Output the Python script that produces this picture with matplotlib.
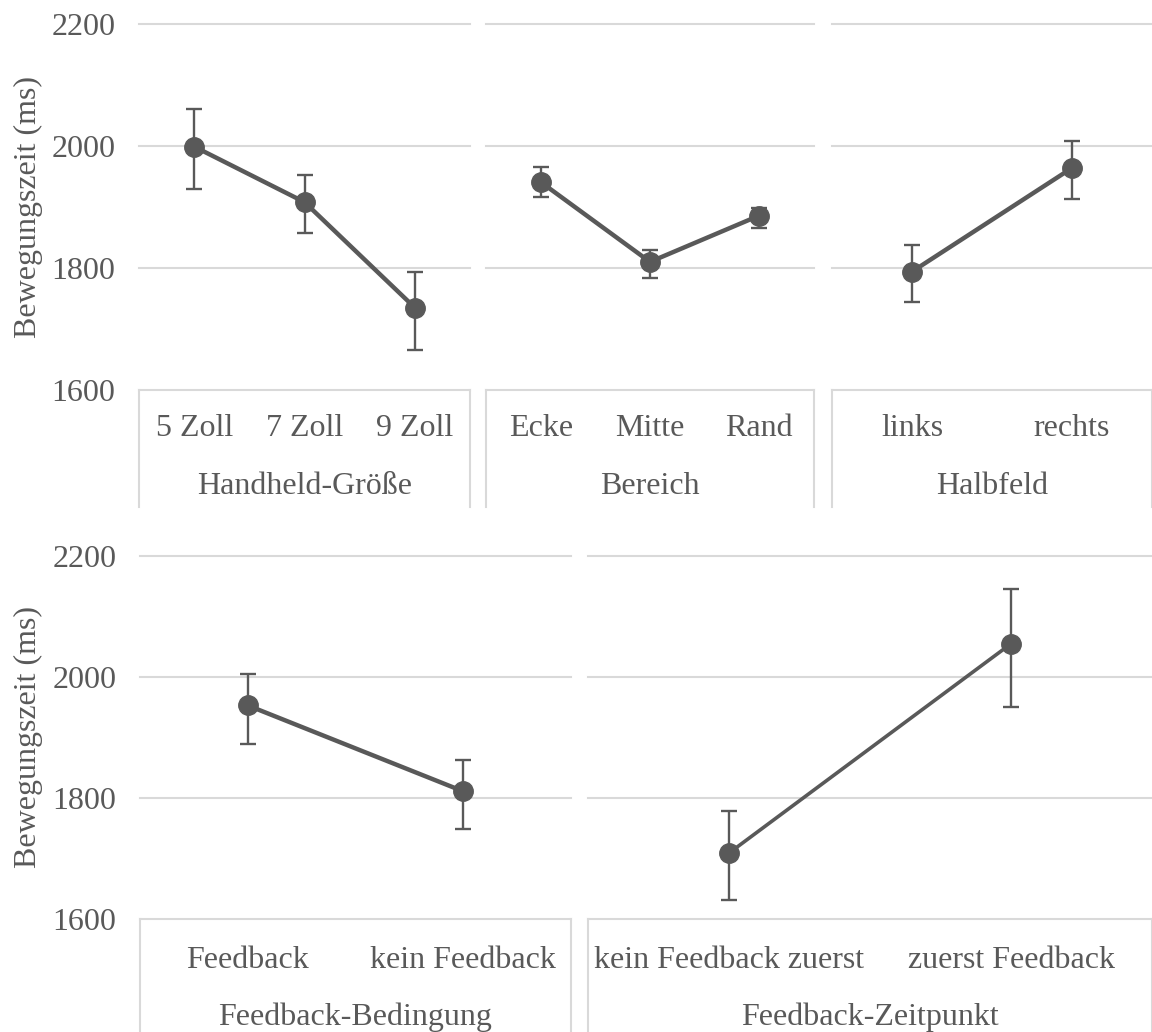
import numpy as np
import matplotlib
matplotlib.use("Agg")
import matplotlib.pyplot as plt

plt.rcParams['font.family'] = ['Liberation Serif', 'DejaVu Serif']

# --- Data ---
y_ticks = [1600, 1800, 2000, 2200]
y_label = "Bewegungszeit (ms)"

size_cats = ["5 Zoll", "7 Zoll", "9 Zoll"]
size_mean = [1999, 1908, 1735]
size_lo = [1930, 1857, 1666]
size_hi = [2060, 1952, 1793]

area_cats = ["Ecke", "Mitte", "Rand"]
area_mean = [1941, 1810, 1886]
area_lo = [1917, 1783, 1865]
area_hi = [1965, 1829, 1899]

half_cats = ["links", "rechts"]
half_mean = [1794, 1964]
half_lo = [1744, 1913]
half_hi = [1838, 2008]

fb_cats = ["Feedback", "kein Feedback"]
fb_mean = [1953, 1811]
fb_lo = [1889, 1748]
fb_hi = [2005, 1863]

order_cats = ["kein Feedback zuerst", "zuerst Feedback"]
order_mean = [1709, 2055]
order_lo = [1632, 1951]
order_hi = [1778, 2146]

groups = ["Handheld-Größe", "Bereich", "Halbfeld", "Feedback-Bedingung", "Feedback-Zeitpunkt"]

# --- Layout (pixels) ---
W, H = 1152, 1032
GREY = "#595959"
GRID = "#d9d9d9"
FS = 23

# row: plot top, plot bottom, box bottom, category label y, group label y
rows = {
    "top": (24, 390, 507, 428, 487),
    "bottom": (556, 919, 1032, 960, 1017),
}

panels = [
    (size_cats, size_mean, size_lo, size_hi, groups[0], 139, 470, "top", 3.2),
    (area_cats, area_mean, area_lo, area_hi, groups[1], 486, 814, "top", 3.2),
    (half_cats, half_mean, half_lo, half_hi, groups[2], 832, 1152, "top", 3.2),
    (fb_cats, fb_mean, fb_lo, fb_hi, groups[3], 140, 571, "bottom", 3.2),
    (order_cats, order_mean, order_lo, order_hi, groups[4], 588, 1152, "bottom", 2.6),
]

fig = plt.figure(figsize=(W / 100, H / 100), dpi=100)

for i, (cats, mean, lo, hi, grp, x0, x1, row, lw) in enumerate(panels):
    top, bot, boxbot, caty, grpy = rows[row]
    ax = fig.add_axes([x0 / W, 1 - bot / H, (x1 - x0) / W, (bot - top) / H])
    h_ax = bot - top
    n = len(cats)
    x = np.arange(n)
    mean = np.array(mean)
    yerr = [mean - np.array(lo), np.array(hi) - mean]

    for t in y_ticks:
        ax.axhline(t, color=GRID, lw=1.5, zorder=0, clip_on=False)

    ax.errorbar(x, mean, yerr=yerr, fmt="-o", color=GREY, lw=lw, ms=14,
                ecolor=GREY, elinewidth=1.7, capsize=5.5, capthick=1.7, zorder=3)

    ax.set_xlim(-0.5, n - 0.5)
    ax.set_ylim(1600, 2200)
    for s in ax.spines.values():
        s.set_visible(False)
    ax.set_xticks([])
    ax.set_yticks(y_ticks)
    if i in (0, 3):
        ax.tick_params(axis="y", length=0, pad=17, labelsize=FS, labelcolor=GREY)
        fig.text(28 / W, 1 - (top + bot) / 2 / H, y_label, rotation=90,
                 ha="center", va="center", fontsize=FS, color=GREY)
    else:
        ax.tick_params(axis="y", length=0, labelleft=False)

    # category box below the plot area
    yb = -(boxbot - bot) / h_ax
    for xe in (0, 1):
        ax.plot([xe, xe], [0, yb], transform=ax.transAxes, color=GRID, lw=1.5,
                clip_on=False)
    trans = ax.get_xaxis_transform()
    for xi, c in zip(x, cats):
        ax.text(xi, -(caty - bot) / h_ax, c, transform=trans, ha="center", va="center",
                fontsize=FS, color=GREY)
    ax.text(0.5, -(grpy - bot) / h_ax, grp, transform=ax.transAxes, ha="center",
            va="center", fontsize=FS, color=GREY)

fig.savefig("out.png", dpi=100)
